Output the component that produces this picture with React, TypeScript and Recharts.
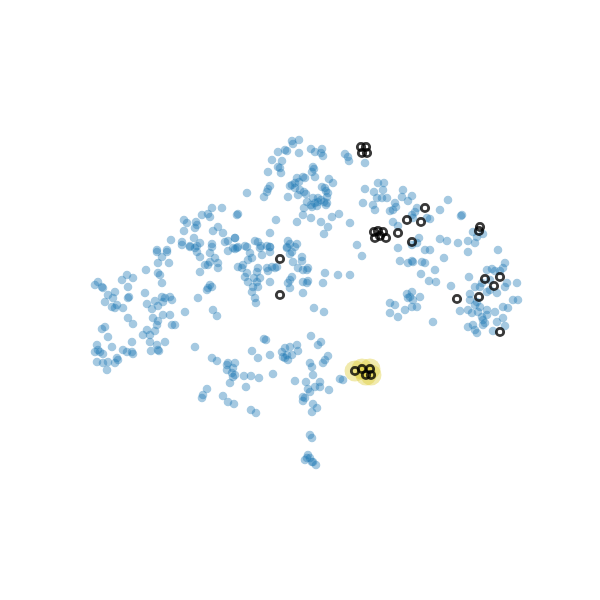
import React from 'react';
import { ScatterChart, Scatter, XAxis, YAxis } from 'recharts';

// embedding coordinates (x, y), y grows downward
const bluePoints: number[][] = [
  [212,208],[222,208],[237,215],[202,215],[208,214],[210,217],[184,220],[187,223],[196,222],[197,225],
  [195,228],[218,227],[213,231],[184,231],[223,233],[194,238],[235,238],[171,240],[182,242],[225,242],
  [228,241],[200,243],[197,246],[190,246],[212,244],[157,250],[167,250],[233,248],[237,248],
  [292,141],[299,140],[293,144],[278,152],[285,150],[287,151],[299,153],[311,149],[315,152],[322,149],
  [321,153],[323,156],[345,154],[348,157],[349,161],[365,163],[272,160],[282,161],[278,167],[280,168],
  [281,173],[268,172],[313,167],[314,169],[312,172],[315,177],[297,178],[303,177],[305,178],[299,182],
  [295,183],[329,179],[333,183],[290,186],[292,185],[295,188],[270,186],[268,189],[267,192],[264,197],
  [247,193],[300,190],[304,192],[306,194],[298,195],[322,187],[325,188],[326,191],[328,193],[327,197],
  [288,197],[313,198],[318,198],[318,202],[321,200],[324,202],[327,203],[326,205],[307,202],[311,205],
  [315,203],[304,208],[312,207],[317,206],[365,189],[363,203],[374,192],[383,190],[378,183],[377,198],
  [373,205],[375,210],[382,198],[303,215],[311,218],[297,222],[332,217],[339,214],[321,222],[328,227],
  [324,234],[350,223],[276,220],[270,233],[238,214],[255,241],[258,242],[261,246],[267,246],[270,247],
  [245,246],[235,238],[288,241],[290,244],[297,244],[287,247],[357,245],
  [384,183],[387,198],[403,190],[402,197],[412,196],[408,201],[448,200],[395,203],[396,207],[390,211],
  [393,210],[417,208],[415,212],[412,215],[440,210],[462,215],[461,216],[413,218],[427,218],[430,219],
  [393,222],[398,226],[473,232],[483,234],[477,237],[419,238],[417,243],[440,239],[447,241],[458,243],
  [468,241],[475,243],[498,250],[425,250],[430,250],[398,248],
  [157,252],[167,252],[162,257],[158,263],[169,263],[182,245],[190,247],[197,252],[195,248],[200,257],
  [210,253],[212,247],[228,251],[235,249],[238,247],[215,258],[210,262],[205,265],[218,263],[218,268],
  [208,265],[238,267],[146,270],[200,272],[158,273],[160,275],[127,275],[133,278],[122,280],[162,283],
  [98,282],[102,287],[95,285],[103,288],[128,287],[210,285],[207,290],[208,288],[212,287],[115,292],
  [108,295],[113,298],[105,302],[129,297],[128,298],[145,293],[162,297],[165,298],[170,297],[172,300],
  [163,302],[155,301],[147,304],[158,306],[198,298],[112,307],[117,305],[115,308],[123,308],[152,309],
  [185,312],[213,310],[217,316],[163,315],[170,315],[128,318],[153,318],[158,321],[157,325],[172,325],
  [175,325],[133,324],[105,327],[102,329],[147,330],[155,331],[143,335],[150,335],[108,337],[165,342],
  [150,342],[157,345],[132,342],[112,347],[97,345],[98,350],[95,352],[103,354],[100,352],[123,350],
  [127,352],[132,352],[133,354],[117,358],[118,360],[115,363],[158,350],[159,351],[151,351],[195,347],
  [97,362],[103,363],[108,362],[107,370],[212,358],[217,361],[228,363],[235,363],[227,365],
  [247,247],[250,253],[252,258],[248,260],[243,265],[242,268],[247,273],[245,277],[260,248],[270,247],
  [270,252],[262,255],[287,248],[292,252],[295,247],[290,254],[302,257],[302,261],[293,262],[362,256],
  [258,268],[257,272],[267,268],[268,271],[272,267],[277,267],[275,268],[298,268],[303,270],[307,270],
  [308,268],[325,273],[338,275],[350,275],[254,278],[260,278],[257,282],[253,287],[258,287],[252,292],
  [255,298],[256,303],[248,282],[270,282],[292,277],[290,280],[288,283],[290,288],[303,282],[308,281],
  [307,283],[323,283],[303,293],[314,308],[324,312],[311,336],[318,345],[321,342],[264,339],[266,340],
  [252,351],[258,358],[270,355],[282,352],[285,348],[290,347],[297,345],[298,351],[292,355],[287,355],
  [285,358],[288,360],[283,357],[328,356],[325,360],[323,363],[310,363],
  [227,370],[233,368],[232,373],[235,375],[233,377],[230,383],[244,376],[251,376],[259,378],[246,387],
  [273,374],[312,367],[313,375],[295,381],[306,382],[308,389],[310,392],[315,387],[320,382],[320,387],
  [329,390],[303,397],[305,398],[303,401],[313,404],[317,408],[312,412],[207,389],[203,395],[202,398],
  [223,396],[228,402],[234,404],[251,410],[256,413],[310,435],[312,438],[308,455],[307,458],[310,458],
  [312,462],[316,465],[313,462],[305,460],[340,379],[343,380],
  [468,252],[412,245],[400,261],[408,263],[412,261],[413,262],[422,262],[425,263],[444,258],[505,263],
  [503,268],[500,271],[492,269],[487,270],[495,271],[435,270],[421,274],[429,281],[436,282],[469,277],
  [490,280],[482,283],[507,283],[505,287],[517,283],[451,286],[475,287],[480,287],[470,294],[497,293],
  [487,292],[490,290],[407,294],[412,292],[410,297],[408,298],[420,297],[413,300],[390,303],[395,305],
  [390,313],[398,317],[405,310],[412,307],[417,307],[470,300],[477,302],[475,305],[480,307],[513,300],
  [518,300],[503,307],[508,308],[460,311],[468,310],[472,313],[478,312],[487,310],[495,312],[482,317],
  [487,315],[483,320],[503,318],[497,322],[505,326],[433,322],[468,327],[473,325],[475,330],[477,333],
  [483,325],[485,323],[493,331],
];

// selected points drawn as dark rings
const selectedPoints: number[][] = [
  [361,147],[366,147],[362,153],[367,153],
  [374,232],[378,231],[383,232],[380,236],[375,238],[386,238],
  [398,233],[407,220],[421,222],[425,208],[412,242],
  [480,227],[479,231],
  [280,259],[280,295],
  [485,279],[500,277],[494,286],[479,297],[457,299],[500,332],
  [355,371],[362,369],[370,369],[366,375],[371,375],
];

// highlighted cluster (yellow halo)
const highlightPoints: number[][] = [
  [355,371],[362,369],[370,369],[366,375],[371,375],
];

const toRows = (pts: number[][]) => pts.map(([x, y]) => ({ x, y }));

const BlueDot = (props: any) => (
  <circle cx={props.cx} cy={props.cy} r={4.3} fill="#1f77b4" fillOpacity={0.4} />
);

const Ring = (props: any) => (
  <circle cx={props.cx} cy={props.cy} r={3.7} fill="none" stroke="#000" strokeOpacity={0.78} strokeWidth={2.8} />
);

const Halo = (props: any) => (
  <circle cx={props.cx} cy={props.cy} r={10.5} fill="#ddce3c" fillOpacity={0.42} />
);

export default function App() {
  return (
    <div style={{ position: 'absolute', left: 0, top: 0, width: 600, height: 600, background: '#fff' }}>
      <ScatterChart width={600} height={600} margin={{ top: 0, right: 0, bottom: 0, left: 0 }}>
        <XAxis type="number" dataKey="x" domain={[0, 600]} hide />
        <YAxis type="number" dataKey="y" domain={[0, 600]} reversed hide />
        <Scatter data={toRows(highlightPoints)} shape={Halo} isAnimationActive={false} />
        <Scatter data={toRows(bluePoints)} shape={BlueDot} isAnimationActive={false} />
        <Scatter data={toRows(selectedPoints)} shape={Ring} isAnimationActive={false} />
      </ScatterChart>
    </div>
  );
}
